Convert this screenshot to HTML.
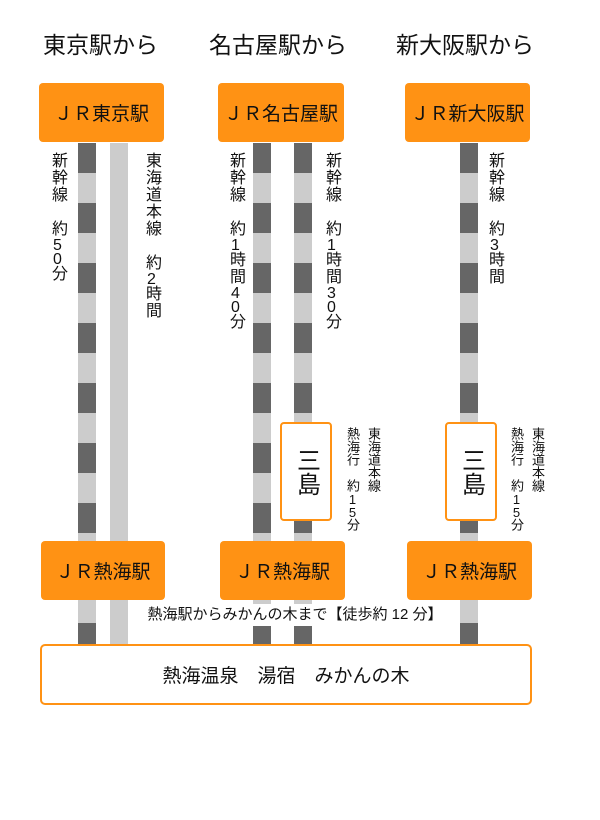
<!DOCTYPE html>
<html><head><meta charset="utf-8"><style>
body{margin:0;width:600px;height:820px;background:#fff;position:relative;overflow:hidden;font-family:"Liberation Sans","Noto Sans CJK JP",sans-serif;color:#111}
div{position:absolute;box-sizing:border-box}
.h{font-size:23px;top:30px;white-space:nowrap;line-height:30px}
.dash{width:18px;top:143px;height:502px;background:repeating-linear-gradient(to bottom,#666 0,#666 30px,#ccc 30px,#ccc 60px)}
.plain{width:18px;top:143px;height:502px;background:#ccc}
.ob{background:#ff9214;border-radius:4px;font-size:19px;display:flex;align-items:center;justify-content:center;white-space:nowrap}
.v{writing-mode:vertical-rl;text-orientation:upright;font-size:16px;line-height:18px;letter-spacing:1px;white-space:nowrap}
.v b{font-weight:normal;letter-spacing:-3px}
.s{font-size:13px;line-height:14px;letter-spacing:0}
.s b{letter-spacing:-2px}
.mi{background:#fff;border:2px solid #ff9214;border-radius:4px;writing-mode:vertical-rl;text-orientation:upright;font-size:24px;display:flex;align-items:center;justify-content:center}
</style></head><body>
<div class="h" style="left:43px">東京駅から</div>
<div class="h" style="left:209px">名古屋駅から</div>
<div class="h" style="left:396px">新大阪駅から</div>

<div class="dash" style="left:78px"></div>
<div class="plain" style="left:110px;"></div>
<div class="dash" style="left:253px"></div>
<div class="dash" style="left:294px"></div>
<div class="dash" style="left:460px"></div>

<div class="ob" style="left:39px;top:83px;width:125px;height:59px">ＪＲ東京駅</div>
<div class="ob" style="left:218px;top:83px;width:126px;height:59px">ＪＲ名古屋駅</div>
<div class="ob" style="left:405px;top:83px;width:125px;height:59px">ＪＲ新大阪駅</div>

<div class="v" style="left:48px;top:152px">新幹線　約<b>50</b>分</div>
<div class="v" style="left:142px;top:152px">東海道本線　約<b>2</b>時間</div>
<div class="v" style="left:226px;top:152px">新幹線　約<b>1</b>時間<b>40</b>分</div>
<div class="v" style="left:322px;top:152px">新幹線　約<b>1</b>時間<b>30</b>分</div>
<div class="v" style="left:485px;top:152px">新幹線　約<b>3</b>時間</div>

<div class="mi" style="left:280px;top:422px;width:52px;height:99px">三島</div>
<div class="mi" style="left:445px;top:422px;width:52px;height:99px">三島</div>
<div class="v s" style="left:345px;top:427px">熱海行　約<b>15</b>分</div>
<div class="v s" style="left:366px;top:427px">東海道本線</div>
<div class="v s" style="left:509px;top:427px">熱海行　約<b>15</b>分</div>
<div class="v s" style="left:530px;top:427px">東海道本線</div>

<div class="ob" style="left:41px;top:541px;width:124px;height:59px">ＪＲ熱海駅</div>
<div class="ob" style="left:220px;top:541px;width:125px;height:59px">ＪＲ熱海駅</div>
<div class="ob" style="left:407px;top:541px;width:125px;height:59px">ＪＲ熱海駅</div>

<div style="left:131px;top:604px;width:328px;height:22px;background:#fff;font-size:15px;line-height:22px;text-align:center;white-space:nowrap">熱海駅からみかんの木まで【徒歩約 12 分】</div>

<div style="left:40px;top:644px;width:492px;height:61px;background:#fff;border:2px solid #ff9214;border-radius:5px;font-size:19px;display:flex;align-items:center;justify-content:center;white-space:nowrap">熱海温泉　湯宿　みかんの木</div>
</body></html>
